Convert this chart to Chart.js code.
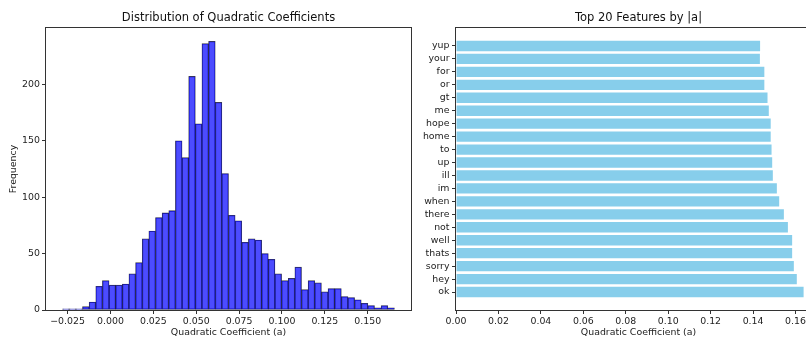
<!DOCTYPE html>
<html><head><meta charset="utf-8">
<script src="https://cdn.jsdelivr.net/npm/chart.js@4/dist/chart.umd.min.js"></script>
<style>
html,body{margin:0;padding:0;background:#fff;overflow:hidden;width:806px;height:338px;position:relative;}
#c1{position:absolute;left:0;top:0;}
#c2{position:absolute;left:412px;top:0;}
</style></head><body>
<canvas id="c1" width="420" height="338"></canvas>
<canvas id="c2" width="420" height="338"></canvas>
<script>
// ---- Histogram data ----
const histCounts = [1, 1, 1, 3, 7, 21, 26, 22, 22, 23, 32, 42, 63, 70, 82, 86, 88, 150, 135, 207,
  165, 236, 238, 184, 121, 84, 79, 60, 63, 62, 50, 45, 32, 26, 28, 38, 18, 26, 24, 16,
  19, 19, 12, 11, 9, 6, 4, 2, 4, 2];
const binStart = -0.02792;
const binWidth = 0.00387;
const histTickValues = [-0.025, 0, 0.025, 0.05, 0.075, 0.1, 0.125, 0.15];
const histTickLabels = ['\u22120.025', '0.000', '0.025', '0.050', '0.075', '0.100', '0.125', '0.150'];
const freqTickValues = [0, 50, 100, 150, 200];

// ---- Top features data ----
const features = ['yup', 'your', 'for', 'or', 'gt', 'me', 'hope', 'home', 'to', 'up',
  'ill', 'im', 'when', 'there', 'not', 'well', 'thats', 'sorry', 'hey', 'ok'];
const featureValues = [0.1433, 0.1432, 0.1453, 0.1453, 0.1468, 0.1474, 0.1483, 0.1483, 0.1487, 0.1490,
  0.1493, 0.1512, 0.1523, 0.1545, 0.1564, 0.1584, 0.1584, 0.1592, 0.1606, 0.1638];
const coefTickValues = [0, 0.02, 0.04, 0.06, 0.08, 0.10, 0.12, 0.14, 0.16];
const coefTickLabels = ['0.00', '0.02', '0.04', '0.06', '0.08', '0.10', '0.12', '0.14', '0.16'];

Chart.defaults.font.family = "'DejaVu Sans', sans-serif";
Chart.defaults.font.size = 9.33;
Chart.defaults.color = '#222';

const framePlugin = {
  id: 'frame',
  afterDraw(chart) {
    const {ctx, chartArea: a} = chart;
    ctx.save();
    ctx.strokeStyle = '#333';
    ctx.lineWidth = 1;
    const l = Math.round(a.left) - 0.5, t = Math.round(a.top) - 0.5;
    const r = Math.round(a.right) + 0.5, b = Math.round(a.bottom) + 0.5;
    ctx.strokeRect(l, t, r - l, b - t);
    ctx.restore();
  }
};

const tickGrid = {display: true, drawOnChartArea: false, drawTicks: true, tickLength: 4, color: '#333', lineWidth: 1, offset: false};
const titleFont = {size: 11.5, weight: 'normal', lineHeight: 1.2};
const labelFont = {size: 9.4, lineHeight: 1.2};

// ---- Left: histogram ----
const histData = histCounts.map((c, i) => ({x: binStart + (i + 0.5) * binWidth, y: c}));
const xMin1 = binStart - 0.05 * binWidth * histCounts.length;
const xMax1 = binStart + binWidth * histCounts.length * 1.05;
new Chart(document.getElementById('c1'), {
  type: 'bar',
  data: {datasets: [{
    data: histData,
    backgroundColor: 'rgba(0,0,255,0.7)',
    borderColor: 'rgba(0,0,0,0.75)',
    borderWidth: 0.6,
    borderSkipped: false,
    barPercentage: 1,
    categoryPercentage: 1
  }]},
  options: {
    responsive: false, animation: false, events: [],
    layout: {padding: {left: 0, right: 9, top: 0, bottom: 0}},
    plugins: {
      legend: {display: false}, tooltip: {enabled: false},
      title: {display: true, text: 'Distribution of Quadratic Coefficients', fullSize: false,
        font: titleFont, color: '#111', padding: {top: 11.4, bottom: 2.8}}
    },
    scales: {
      x: {
        type: 'linear', min: xMin1, max: xMax1, offset: false,
        grid: tickGrid, border: {display: false},
        afterBuildTicks: s => { s.ticks = histTickValues.map(v => ({value: v})); },
        ticks: {autoSkip: false, maxRotation: 0, padding: 2, font: labelFont,
          callback: (v, i) => histTickLabels[i]},
        title: {display: true, text: 'Quadratic Coefficient (a)', font: labelFont, color: '#222', padding: {top: 1, bottom: 0}},
        afterFit: s => { s.height = 28; }
      },
      y: {
        type: 'linear', min: 0, max: 249.9,
        grid: tickGrid, border: {display: false},
        afterBuildTicks: s => { s.ticks = freqTickValues.map(v => ({value: v})); },
        ticks: {autoSkip: false, padding: 2, font: labelFont, callback: v => String(v)},
        title: {display: true, text: 'Frequency', font: labelFont, color: '#222', padding: {top: 7.7, bottom: 0}},
        afterFit: s => { s.width = 46; }
      }
    }
  },
  plugins: [framePlugin]
});

// ---- Right: top features ----
const barData = featureValues.map((v, i) => ({x: v, y: i}));
const yPad = 0.05 * (features.length - 1 + 0.8);
new Chart(document.getElementById('c2'), {
  type: 'bar',
  data: {datasets: [{
    data: barData,
    backgroundColor: '#87ceeb',
    borderWidth: 0,
    barPercentage: 0.8,
    categoryPercentage: 1
  }]},
  options: {
    indexAxis: 'y',
    responsive: false, animation: false, events: [],
    layout: {padding: {left: 0, right: 11, top: 0, bottom: 0}},
    plugins: {
      legend: {display: false}, tooltip: {enabled: false},
      title: {display: true, text: 'Top 20 Features by |a|', fullSize: false,
        font: titleFont, color: '#111', padding: {top: 11.4, bottom: 2.8}}
    },
    scales: {
      x: {
        type: 'linear', min: 0, max: 0.172,
        grid: tickGrid, border: {display: false},
        afterBuildTicks: s => { s.ticks = coefTickValues.map(v => ({value: v})); },
        ticks: {autoSkip: false, maxRotation: 0, padding: 2, font: labelFont,
          callback: (v, i) => coefTickLabels[i]},
        title: {display: true, text: 'Quadratic Coefficient (a)', font: labelFont, color: '#222', padding: {top: 1, bottom: 0}},
        afterFit: s => { s.height = 28; }
      },
      y: {
        type: 'linear', reverse: true, offset: false,
        min: -0.4 - yPad, max: features.length - 1 + 0.4 + yPad,
        grid: tickGrid, border: {display: false},
        afterBuildTicks: s => { s.ticks = features.map((f, i) => ({value: i})); },
        ticks: {autoSkip: false, padding: 2.5, font: labelFont, callback: (v, i) => features[i]},
        afterFit: s => { s.width = 44; }
      }
    }
  },
  plugins: [framePlugin]
});
</script>
</body></html>
